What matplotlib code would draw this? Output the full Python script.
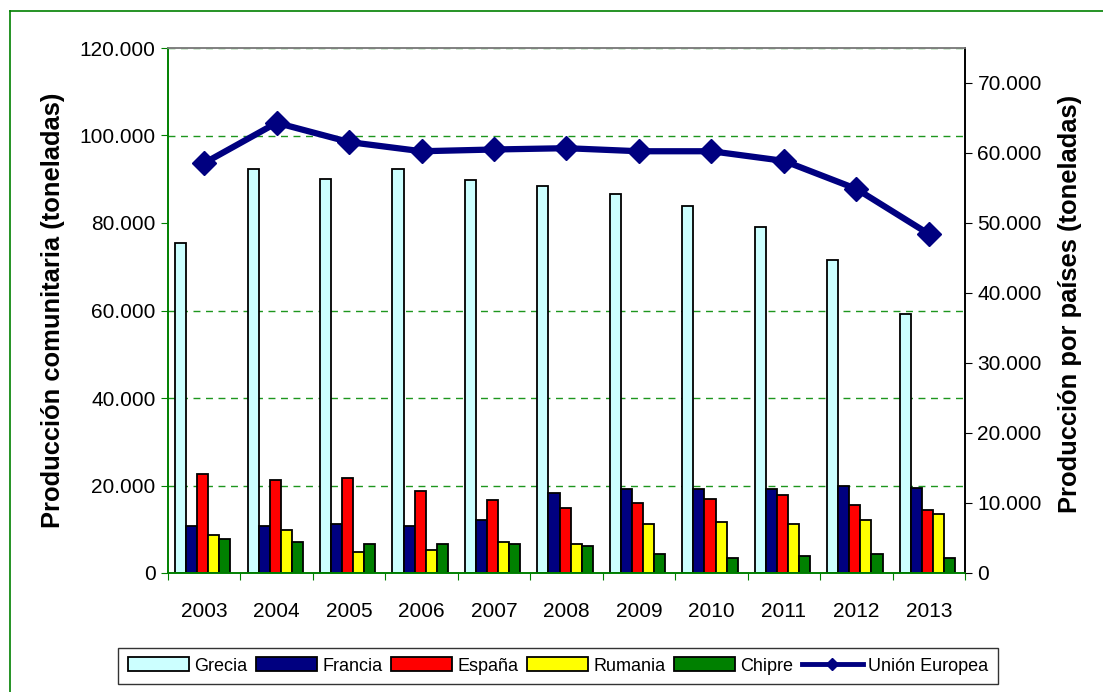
import numpy as np
import matplotlib
matplotlib.use("Agg")
import matplotlib.pyplot as plt
from matplotlib.ticker import MultipleLocator, FuncFormatter, FixedLocator, NullFormatter
from matplotlib.patches import Patch
from matplotlib.lines import Line2D

plt.rcParams["font.family"] = ["Liberation Sans", "DejaVu Sans"]

YEARS = ["2003", "2004", "2005", "2006", "2007", "2008", "2009", "2010", "2011", "2012", "2013"]

GRECIA = [47100, 57700, 56300, 57700, 56100, 55300, 54200, 52500, 49500, 44700, 37000]
FRANCIA = [6760, 6760, 7040, 6760, 7600, 11400, 12000, 12000, 12000, 12470, 12200]
ESPANA = [14100, 13300, 13600, 11760, 10370, 9280, 10000, 10600, 11100, 9760, 8950]
RUMANIA = [5470, 6200, 2940, 3230, 4370, 4090, 7040, 7280, 7040, 7600, 8430]
CHIPRE = [4900, 4370, 4090, 4090, 4090, 3800, 2710, 2140, 2470, 2710, 2140]
UNION_EUROPEA = [93700, 102900, 98500, 96400, 96800, 97100, 96400, 96400, 94200, 87800, 77500]

COUNTRIES = ["Grecia", "Francia", "España", "Rumania", "Chipre"]
COLORS = ["#CCFFFF", "#000080", "#FF0000", "#FFFF00", "#008000"]

GREEN = "#008000"


def miles(v, pos):
    return f"{int(v):,}".replace(",", ".")


fig = plt.figure(figsize=(11.03, 6.92), dpi=100)
ax = fig.add_axes([168 / 1103, 1 - 573 / 692, (965 - 168) / 1103, (573 - 48) / 692])
ax2 = ax.twinx()

# bars on the primary axes (scale shown on the right), line on the twin (left)
x = np.arange(len(YEARS))
w = 0.153
series = [GRECIA, FRANCIA, ESPANA, RUMANIA, CHIPRE]
for k, (vals, name, col) in enumerate(zip(series, COUNTRIES, COLORS)):
    ax.bar(x + (k - 2) * w - 0.02, vals, width=w, color=col, edgecolor="black",
           linewidth=1.3, label=name, zorder=2)

ax.set_xlim(-0.5, len(YEARS) - 0.5)
ax.set_ylim(0, 75000)
ax.yaxis.tick_right()
ax.yaxis.set_label_position("right")
ax.yaxis.set_major_locator(MultipleLocator(10000))
ax.yaxis.set_major_formatter(FuncFormatter(miles))
ax.yaxis.set_minor_locator(MultipleLocator(12500))
ax.grid(which="minor", axis="y", color="#1E961E", linestyle=(0, (5, 4)), linewidth=1.0)
ax.set_axisbelow(True)
ax.tick_params(axis="y", which="minor", length=0)
ax.tick_params(axis="y", which="major", direction="out", length=5, color="black",
               labelsize=15, pad=4)

ax.xaxis.set_major_locator(FixedLocator(np.arange(len(YEARS) + 1) - 0.5))
ax.xaxis.set_major_formatter(NullFormatter())
ax.xaxis.set_minor_locator(FixedLocator(x))
ax.set_xticklabels(YEARS, minor=True)
ax.tick_params(axis="x", which="major", direction="out", length=5, color=GREEN)
ax.tick_params(axis="x", which="minor", length=0, labelsize=15, pad=21)

ax.set_ylabel("Producción por países (toneladas)", fontsize=18.4, fontweight="bold")
ax.yaxis.set_label_coords(1.117, 0.513)

ax2.plot(x, UNION_EUROPEA, color="#000080", linewidth=4.5, marker="D", markersize=12.5,
         label="Unión Europea", zorder=3)
ax2.set_ylim(0, 120000)
ax2.yaxis.tick_left()
ax2.yaxis.set_label_position("left")
ax2.yaxis.set_major_locator(MultipleLocator(20000))
ax2.yaxis.set_major_formatter(FuncFormatter(miles))
ax2.tick_params(axis="y", direction="out", length=5, color=GREEN, labelsize=15, pad=4)
ax2.set_ylabel("Producción comunitaria (toneladas)", fontsize=18.4, fontweight="bold")
ax2.yaxis.set_label_coords(-0.129, 0.5)

for a in (ax, ax2):
    a.spines["left"].set_color(GREEN)
    a.spines["bottom"].set_color(GREEN)
    a.spines["top"].set_color("#808080")
    a.spines["right"].set_color("black")
    for s in a.spines.values():
        s.set_linewidth(1.2)

handles = [Patch(facecolor=c, edgecolor="black", linewidth=1.3, label=n)
           for n, c in zip(COUNTRIES, COLORS)]
handles.append(Line2D([], [], color="#000080", linewidth=3.5, marker="D", markersize=6,
                      label="Unión Europea"))
leg = fig.legend(handles=handles, loc="center", bbox_to_anchor=(558 / 1103, 1 - 666 / 692),
                 ncol=6, fontsize=13, frameon=True, fancybox=False, edgecolor="black",
                 handlelength=3.4, handleheight=0.8, handletextpad=0.3, columnspacing=0.45,
                 borderpad=0.5, borderaxespad=0)
leg.get_frame().set_linewidth(1.0)

# outer chart frame (left and top edges visible in the crop)
fig.add_artist(Line2D([10 / 1103, 10 / 1103], [0, 1 - 11 / 692], color=GREEN, linewidth=1.2))
fig.add_artist(Line2D([10 / 1103, 1], [1 - 11 / 692, 1 - 11 / 692], color=GREEN, linewidth=1.2))

fig.savefig("out.png", dpi=100)
plt.close()
